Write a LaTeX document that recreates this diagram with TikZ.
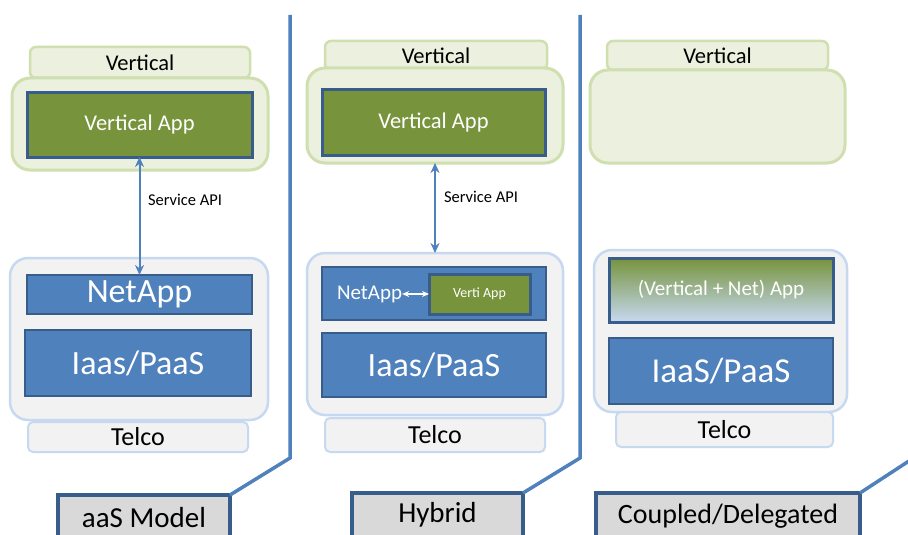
\documentclass[tikz,border=0pt]{standalone}
\usepackage{fontspec}
\setmainfont{Carlito}
\usetikzlibrary{arrows.meta}
\definecolor{agreen}{HTML}{77933C}
\definecolor{dblue}{HTML}{385D8A}
\definecolor{mblue}{HTML}{4F81BD}
\definecolor{lgfill}{HTML}{EBF1DE}
\definecolor{lgstroke}{HTML}{CFDFAF}
\definecolor{lbstroke}{HTML}{C6D9F1}
\definecolor{gfill}{HTML}{F2F2F2}
\definecolor{labfill}{HTML}{D9D9D9}
\definecolor{lblue}{HTML}{C6D9F1}
\newcommand{\fs}[1]{\fontsize{#1}{#1}\selectfont}
\begin{document}
\begin{tikzpicture}[x=1pt,y=-1pt,
  every node/.style={inner sep=0pt, outer sep=0pt},
  vtabbox/.style={rounded corners=6pt, fill=lgfill, draw=lgstroke, line width=2.5pt, font=\fs{22.5}},
  vcontbox/.style={rounded corners=18pt, fill=lgfill, draw=lgstroke, line width=3pt},
  tcontbox/.style={rounded corners=18pt, fill=gfill, draw=lbstroke, line width=2.5pt},
  ttabbox/.style={rounded corners=5pt, fill=gfill, draw=lbstroke, line width=2pt, font=\fs{26}},
  gappbox/.style={fill=agreen, draw=dblue, line width=3pt, text=white, font=\fs{22.5}},
  bappbox/.style={fill=mblue, draw=dblue, line width=2.5pt, text=white},
  labbox/.style={fill=labfill, draw=dblue, line width=4pt, font=\fs{29}},
  divider/.style={draw=mblue, line width=3.5pt},
  api/.style={draw=mblue, line width=2pt, {Stealth[length=10pt,width=9pt]}-{Stealth[length=10pt,width=9pt]}},
  apilabel/.style={anchor=west, font=\fs{16.5}}
]
\useasboundingbox (0,0) rectangle (908,535);
\fill[white] (0,0) rectangle (908,535);
\clip (0,0) rectangle (908,535);

% ---------- Panel 1: aaS Model ----------
\node[vtabbox, minimum width=220pt, minimum height=31pt] (vtab1) at (140,62.5) {Vertical};
\node[vcontbox, minimum width=256pt, minimum height=92pt] (vcont1) at (140,124) {};
\node[gappbox, minimum width=225pt, minimum height=64pt] (vapp1) at (139.5,125) {Vertical App};
\node[tcontbox, minimum width=258pt, minimum height=162pt] (tcont1) at (139,339) {};
\node[bappbox, minimum width=225pt, minimum height=39pt, font=\fs{34}] (net1) at (139.5,294.5) {NetApp};
\node[bappbox, minimum width=226pt, minimum height=66pt, font=\fs{34}] (iaas1) at (138,363) {Iaas/PaaS};
\node[ttabbox, minimum width=220pt, minimum height=30pt] (ttab1) at (138,437) {Telco};
\draw[api] (vapp1.south) -- (net1.north);
\node[apilabel] (sapi1) at (148,200) {Service API};
\node[labbox, minimum width=172pt, minimum height=46pt] (lab1) at (144,518) {aaS Model};

% ---------- Panel 2: Hybrid ----------
\node[vtabbox, minimum width=222pt, minimum height=29pt] (vtab2) at (436,55.5) {Vertical};
\node[vcontbox, minimum width=256pt, minimum height=95pt] (vcont2) at (435,115.5) {};
\node[gappbox, minimum width=223pt, minimum height=65pt] (vapp2) at (433.5,122.5) {Vertical App};
\node[tcontbox, minimum width=256pt, minimum height=162pt] (tcont2) at (435,334) {};
\node[bappbox, minimum width=224pt, minimum height=53pt] (net2) at (434,293.5) {};
\node[gappbox, minimum width=101pt, minimum height=40pt, font=\fs{14}] (verti) at (479.5,294) {Verti App};
\node[anchor=west, text=white, font=\fs{21}] (net2t) at (337,294) {NetApp};
\draw[white, line width=1.5pt, {Stealth[length=7pt,width=6pt]}-{Stealth[length=7pt,width=6pt]}] (net2t.east) -- (verti.west);
\node[bappbox, minimum width=224pt, minimum height=64pt, font=\fs{34}] (iaas2) at (434,365) {Iaas/PaaS};
\node[ttabbox, minimum width=220pt, minimum height=34pt] (ttab2) at (435,435) {Telco};
\draw[api] (vcont2.south) -- (tcont2.north);
\node[apilabel] (sapi2) at (444,197) {Service API};
\node[labbox, minimum width=171pt, minimum height=44pt] (lab2) at (437.5,515) {Hybrid};

% ---------- Panel 3: Coupled/Delegated ----------
\node[vtabbox, minimum width=221pt, minimum height=29pt] (vtab3) at (717.5,55.5) {Vertical};
\node[vcontbox, minimum width=255pt, minimum height=93pt] (vcont3) at (717.5,116.5) {};
\node[tcontbox, minimum width=253pt, minimum height=162pt] (tcont3) at (720.5,331) {};
\node[draw=dblue, line width=3pt, top color=agreen, middle color=agreen!92!lblue, bottom color=lblue, text=white, font=\fs{21}, minimum width=224pt, minimum height=64pt] (vn) at (721,290) {(Vertical + Net) App};
\node[bappbox, minimum width=224pt, minimum height=66pt, font=\fs{35}] (iaas3) at (721,371) {IaaS/PaaS};
\node[ttabbox, minimum width=217pt, minimum height=35pt] (ttab3) at (724.5,429.5) {Telco};
\node[labbox, minimum width=264pt, minimum height=46pt, font=\fs{28}] (lab3) at (728,516) {Coupled/Delegated};

% ---------- Dividers ----------
\coordinate (d1t) at (290,15);
\coordinate (d1b) at (290,458);
\coordinate (d2t) at (580,15);
\coordinate (d2b) at (580,458);
\coordinate (d3) at (912,459);
\draw[divider] (d1t) -- (d1b) -- (lab1.north east);
\draw[divider] (d2t) -- (d2b) -- (lab2.north east);
\draw[divider] (d3) -- (lab3.north east);
\end{tikzpicture}
\end{document}
